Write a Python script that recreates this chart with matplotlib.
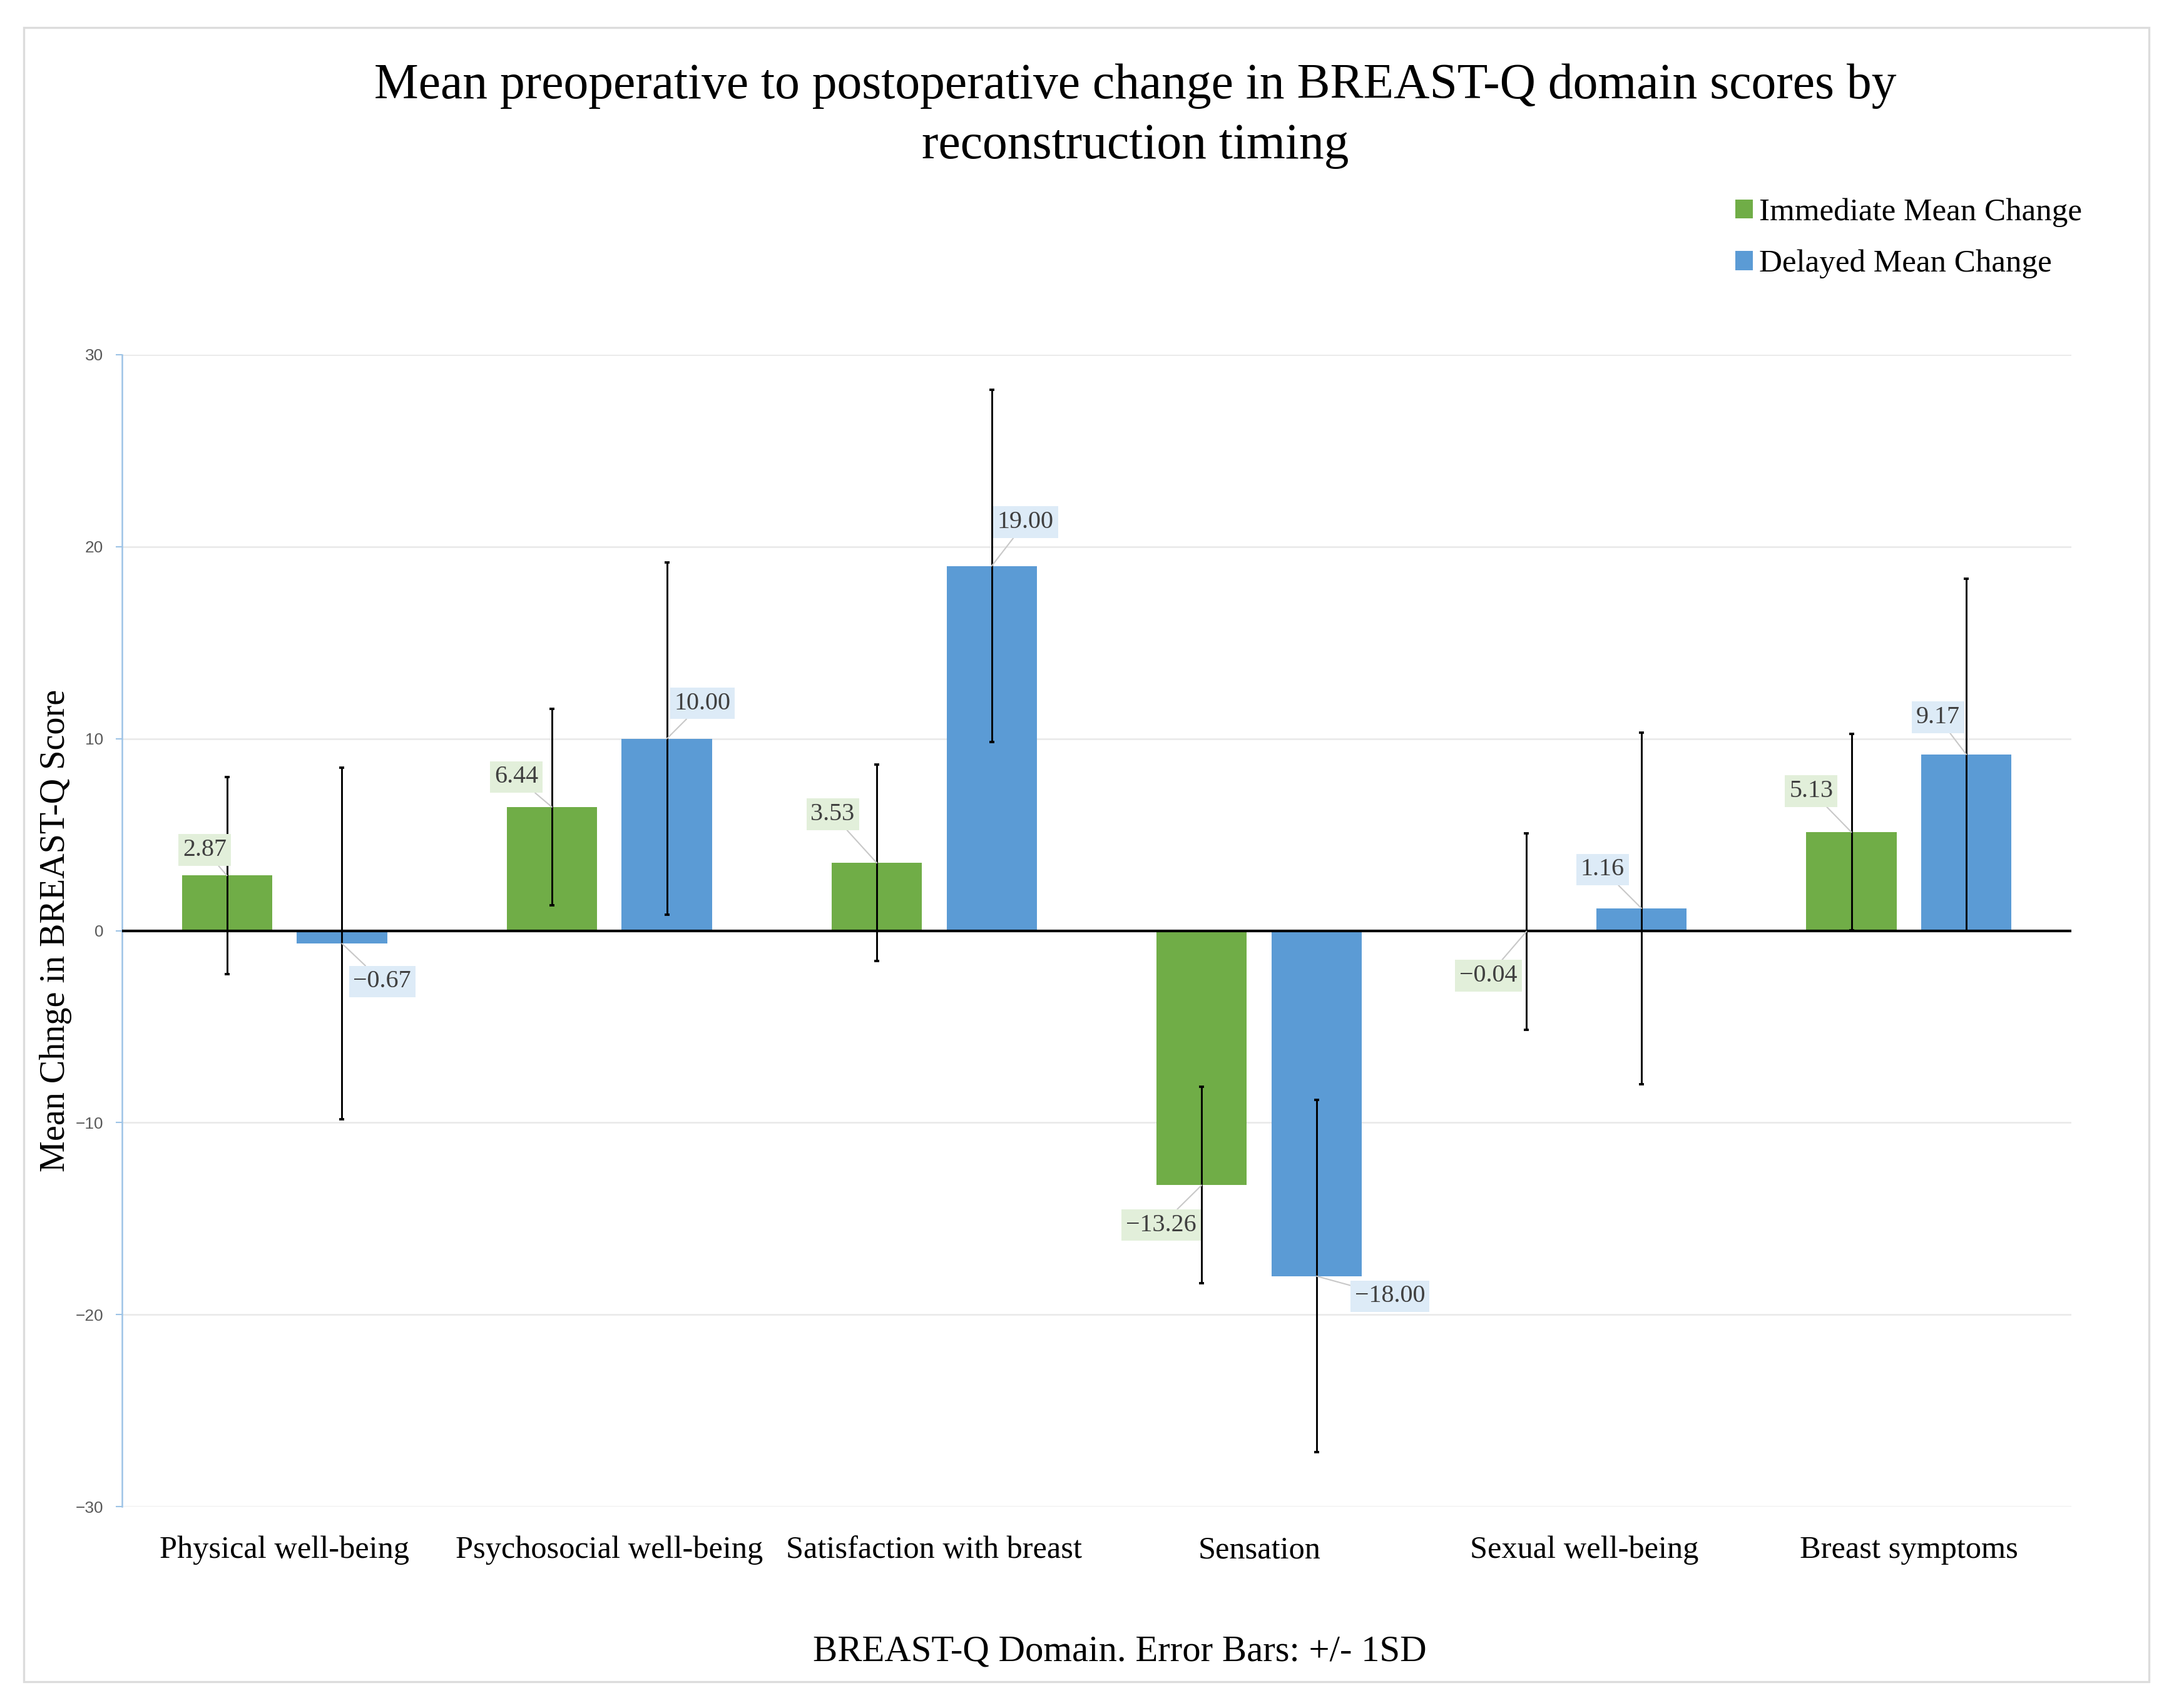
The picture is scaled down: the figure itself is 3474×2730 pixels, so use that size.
import matplotlib
matplotlib.use("Agg")
import matplotlib.pyplot as plt
import numpy as np
from matplotlib.patches import Rectangle

# ---------------- data ----------------
categories = ["Physical well-being", "Psychosocial well-being", "Satisfaction with breast",
              "Sensation", "Sexual well-being", "Breast symptoms"]
series_names = ["Immediate Mean Change", "Delayed Mean Change"]
immediate_mean = [2.87, 6.44, 3.53, -13.26, -0.04, 5.13]
delayed_mean = [-0.67, 10.00, 19.00, -18.00, 1.16, 9.17]
immediate_sd = [5.12, 5.12, 5.12, 5.12, 5.12, 5.12]
delayed_sd = [9.17, 9.17, 9.17, 9.17, 9.17, 9.17]
y_ticks = [-30, -20, -10, 0, 10, 20, 30]
title_lines = ["Mean preoperative to postoperative change in BREAST-Q domain scores by",
               "reconstruction timing"]
y_label = "Mean Chnge in BREAST-Q Score"
x_label = "BREAST-Q Domain. Error Bars: +/- 1SD"

# label offsets (points) of each data label from its bar end (layout only)
imm_label_offsets = [(-8.5, 9.8), (-13.6, 11.5), (-16.9, 18.6), (-15.5, -15.3), (-14.6, -17.0), (-15.4, 15.8)]
del_label_offsets = [(15.4, -14.6), (13.6, 13.6), (13.0, 16.8), (28.1, -7.7), (-14.9, 14.9), (-10.9, 14.3)]

# ---------------- style ----------------
W, H, DPI = 3474, 2730, 300
GREEN, BLUE = "#70AD47", "#5B9BD5"
GREEN_BG, BLUE_BG = "#E2EFDA", "#DDEBF7"
SERIF = ["Liberation Serif", "DejaVu Serif"]
SANS = ["Liberation Sans", "DejaVu Sans"]

fig = plt.figure(figsize=(W / DPI, H / DPI), dpi=DPI)
fig.patch.set_facecolor("white")
r = fig.canvas.get_renderer()


def size_for(s, target_px, family, base=12.0):
    t = fig.text(0, 0, s, fontsize=base, family=family)
    w = t.get_window_extent(r).width
    t.remove()
    return base * target_px / w


fs_title = size_for(title_lines[0], 2433, SERIF)
fs_legend = size_for(series_names[0], 517, SERIF)
fs_xtick = size_for(categories[0], 399, SERIF)
fs_ylabel = size_for(y_label, 771, SERIF)
fs_xlabel = size_for(x_label, 981, SERIF)
fs_data = size_for("19.00", 90, SERIF)

# outer border
fig.patches.append(Rectangle((38 / W, 1 - 2688 / H), (3434 - 38) / W, (2688 - 44) / H,
                             transform=fig.transFigure, fill=False, ec="#dcdcdc", lw=0.8))

ax = fig.add_axes([195 / W, 322 / H, 3115 / W, 1841 / H])
x = np.arange(len(categories))
bw, off = 0.278, 0.177

b1 = ax.bar(x - off, immediate_mean, bw, color=GREEN, label=series_names[0], zorder=2)
b2 = ax.bar(x + off, delayed_mean, bw, color=BLUE, label=series_names[1], zorder=2)
ax.errorbar(x - off, immediate_mean, yerr=immediate_sd, fmt="none", ecolor="black",
            elinewidth=0.7, capsize=1.0, capthick=0.9, zorder=4)
ax.errorbar(x + off, delayed_mean, yerr=delayed_sd, fmt="none", ecolor="black",
            elinewidth=0.7, capsize=1.0, capthick=0.9, zorder=4)
ax.axhline(0, color="black", lw=1.0, zorder=3)

ax.set_xlim(-0.5, len(categories) - 0.5)
ax.set_ylim(y_ticks[0], y_ticks[-1])
ax.set_yticks(y_ticks)
ax.set_xticks(x)
ax.set_xticklabels(categories, family=SERIF, fontsize=fs_xtick, va="center")
for t in ax.get_yticklabels():
    t.set_family(SANS)
ax.tick_params(axis="x", length=0, pad=16.8)
ax.tick_params(axis="y", length=2.4, width=0.5, color="#9DC3E6", labelsize=6.3,
               labelcolor="#595959", pad=4.8)
ax.yaxis.grid(True, color="#e8e8e8", lw=0.6, zorder=0)
ax.set_axisbelow(True)
for s in ["top", "right", "bottom"]:
    ax.spines[s].set_visible(False)
ax.spines["left"].set_color("#9DC3E6")
ax.spines["left"].set_linewidth(0.6)

ax.set_ylabel(y_label, family=SERIF, fontsize=fs_ylabel, va="center")
ax.yaxis.set_label_coords((89 - 195) / 3115, 0.5)
ax.set_xlabel(x_label, family=SERIF, fontsize=fs_xlabel, va="center")
ax.xaxis.set_label_coords((1789 - 195) / 3115, (89 - 322) / 1841)


def fmt(v):
    return f"{v:.2f}".replace("-", "\u2212")


for xs, vals, offs, bg in [(x - off, immediate_mean, imm_label_offsets, GREEN_BG),
                           (x + off, delayed_mean, del_label_offsets, BLUE_BG)]:
    for xi, v, (dx, dy) in zip(xs, vals, offs):
        ax.annotate(fmt(v), xy=(xi, v), xytext=(dx, dy), textcoords="offset points",
                    ha="center", va="center", fontsize=fs_data, color="#404040", family=SERIF,
                    bbox=dict(boxstyle="square,pad=0.17", fc=bg, ec="none"),
                    arrowprops=dict(arrowstyle="-", color="#c8c8c8", lw=0.5, shrinkA=0, shrinkB=0),
                    zorder=6)

# title
fig.text(1814 / W, 1 - 157 / H, title_lines[0], ha="center", va="baseline",
         fontsize=fs_title, family=SERIF, color="black")
fig.text(1814 / W, 1 - 253 / H, title_lines[1], ha="center", va="baseline",
         fontsize=fs_title, family=SERIF, color="black")

# legend
fig.legend(handles=[b1, b2], labels=series_names, loc="center left",
           bbox_to_anchor=(2773 / W, 1 - 381 / H), frameon=False, borderpad=0,
           borderaxespad=0, handlelength=0.55, handleheight=0.55, handletextpad=0.2,
           labelspacing=0.7, prop=dict(family=SERIF, size=fs_legend))

fig.savefig("out.png", dpi=DPI, facecolor="white")
